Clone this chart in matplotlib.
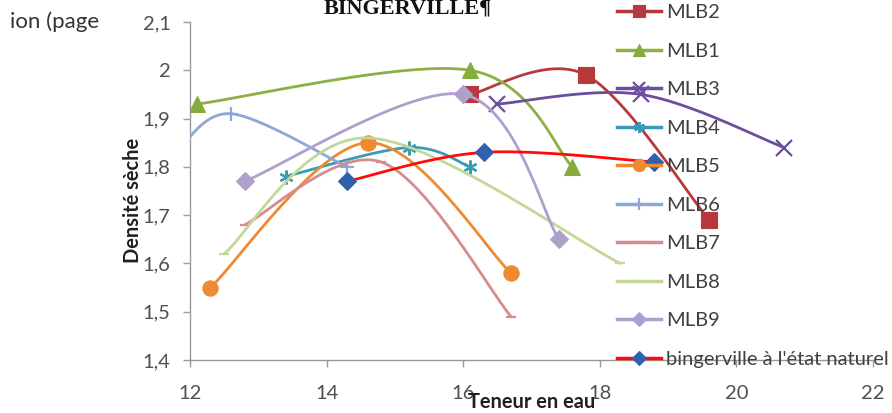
import numpy as np
import matplotlib
matplotlib.use("Agg")
import matplotlib.pyplot as plt

# ---- data: water content (Teneur en eau) vs dry density (Densité sèche)
series_names = ["MLB2", "MLB1", "MLB3", "MLB4", "MLB5", "MLB6",
                "MLB7", "MLB8", "MLB9", "bingerville à l'état naturel"]

x_mlb2 = [16.1, 17.8, 19.6]
y_mlb2 = [1.95, 1.99, 1.69]
x_mlb1 = [12.1, 16.1, 17.6]
y_mlb1 = [1.93, 2.00, 1.80]
x_mlb3 = [16.5, 18.6, 20.7]
y_mlb3 = [1.93, 1.95, 1.84]
x_mlb4 = [13.4, 15.2, 16.1]
y_mlb4 = [1.78, 1.84, 1.80]
x_mlb5 = [12.3, 14.6, 16.7]
y_mlb5 = [1.55, 1.85, 1.58]
x_mlb6 = [11.8, 12.6, 14.3]
y_mlb6 = [1.83, 1.91, 1.80]
x_mlb7 = [12.8, 14.8, 16.7]
y_mlb7 = [1.68, 1.81, 1.49]
x_mlb8 = [12.5, 14.6, 18.3]
y_mlb8 = [1.62, 1.86, 1.60]
x_mlb9 = [12.8, 16.0, 17.4]
y_mlb9 = [1.77, 1.95, 1.65]
x_bing = [14.3, 16.3, 18.8]
y_bing = [1.77, 1.83, 1.81]

x_ticks = [12, 14, 16, 18, 20, 22]
y_ticks = [1.4, 1.5, 1.6, 1.7, 1.8, 1.9, 2.0, 2.1]
y_tick_labels = ["1,4", "1,5", "1,6", "1,7", "1,8", "1,9", "2", "2,1"]

xs = [x_mlb2, x_mlb1, x_mlb3, x_mlb4, x_mlb5, x_mlb6, x_mlb7, x_mlb8, x_mlb9, x_bing]
ys = [y_mlb2, y_mlb1, y_mlb3, y_mlb4, y_mlb5, y_mlb6, y_mlb7, y_mlb8, y_mlb9, y_bing]

# ---- styles
line_colors = ["#B8393C", "#8CB043", "#6B4E9E", "#3A9BB5", "#EE8A32",
               "#8EA6DA", "#D68C8C", "#C2D898", "#AE9FCC", "#FF0A0A"]
marker_colors = ["#B8393C", "#86AC3E", "#6B4E9E", "#3A9BB5", "#EE8A32",
                 "#8EA6DA", "#D68C8C", "#C2D898", "#AE9FCC", "#2F62AA"]
markers = ["s", "^", "x", (6, 2, 0), "o", "+", "_", "_", "D", "D"]
msizes = [11, 11, 11, 10, 11, 10, 7, 7, 9, 9]


def smooth(px, py, n=60):
    """Bezier smoothing with neighbour-based control points (spreadsheet style)."""
    px = np.asarray(px, float)
    py = np.asarray(py, float)
    pts = np.column_stack([px, py])
    m = len(pts)
    out = []
    for i in range(m - 1):
        p0 = pts[i - 1] if i > 0 else pts[i]
        p1 = pts[i]
        p2 = pts[i + 1]
        p3 = pts[i + 2] if i + 2 < m else pts[i + 1]
        c1 = p1 + (p2 - p0) / 6.0
        c2 = p2 - (p3 - p1) / 6.0
        t = np.linspace(0, 1, n)[:, None]
        seg = ((1 - t) ** 3) * p1 + 3 * ((1 - t) ** 2) * t * c1 \
            + 3 * (1 - t) * t ** 2 * c2 + t ** 3 * p2
        out.append(seg if i == 0 else seg[1:])
    arr = np.vstack(out)
    return arr[:, 0], arr[:, 1]


plt.rcParams["font.family"] = ["Lato", "DejaVu Sans"]

W, H = 892, 413
fig = plt.figure(figsize=(W / 100, H / 100), dpi=100)
ax = fig.add_axes([190 / W, 1 - 360 / H, (873 - 190) / W, (360 - 22) / H])

handles = []
for i, name in enumerate(series_names):
    sx, sy = smooth(xs[i], ys[i])
    ax.plot(sx, sy, color=line_colors[i], lw=2.0, solid_capstyle="round",
            zorder=2 + i)
    mew = 1.6 if markers[i] in ("x", "+", "_") or isinstance(markers[i], tuple) else 0.8
    ax.plot(xs[i], ys[i], linestyle="none", marker=markers[i], ms=msizes[i],
            mfc=marker_colors[i], mec=marker_colors[i], mew=mew,
            zorder=2 + i)
    h, = ax.plot([], [], color=line_colors[i], lw=2.5, marker=markers[i],
                 ms=msizes[i] * 0.8, mfc=marker_colors[i], mec=marker_colors[i],
                 mew=mew)
    handles.append(h)

ax.set_xlim(12, 22)
ax.set_ylim(1.4, 2.1)
ax.set_xticks(x_ticks)
ax.set_xticklabels([str(v) for v in x_ticks])
ax.set_yticks(y_ticks)
ax.set_yticklabels(y_tick_labels)

for side in ("top", "right"):
    ax.spines[side].set_visible(False)
for side in ("left", "bottom"):
    ax.spines[side].set_color("#9A9A9A")
    ax.spines[side].set_linewidth(1.0)

ax.tick_params(axis="y", direction="out", length=5, width=1, color="#9A9A9A",
               pad=9, labelsize=14.5, labelcolor="#505050")
ax.tick_params(axis="x", direction="out", length=5, width=1, color="#9A9A9A",
               pad=13, labelsize=14.5, labelcolor="#505050")

# axis titles
fig.text(532 / W, 1 - 402 / H, "Teneur en eau", ha="center", va="center",
         fontsize=14.4, fontweight="bold", color="#202020")
fig.text(133 / W, 1 - 200 / H, "Densité sèche", ha="center", va="center",
         rotation=90, fontsize=14.4, fontweight="bold", color="#202020")

# chart title and margin note
fig.text(408 / W, 1 - 13 / H, "BINGERVILLE¶", ha="center", va="baseline",
         fontsize=16, fontweight="bold", family="Liberation Serif", color="#111111")
fig.text(10 / W, 1 - 22 / H, "ion (page", ha="left", va="center",
         fontsize=16, color="#333333")

leg = fig.legend(handles, series_names, loc="upper left",
                 bbox_to_anchor=(617 / W, 1 - 4 / H), bbox_transform=fig.transFigure,
                 frameon=False, fontsize=14.5, handlelength=2.2, handletextpad=0.25,
                 labelspacing=1.065, borderpad=0, borderaxespad=0)
for t in leg.get_texts():
    t.set_color("#404040")

fig.savefig("out.png", dpi=100)
